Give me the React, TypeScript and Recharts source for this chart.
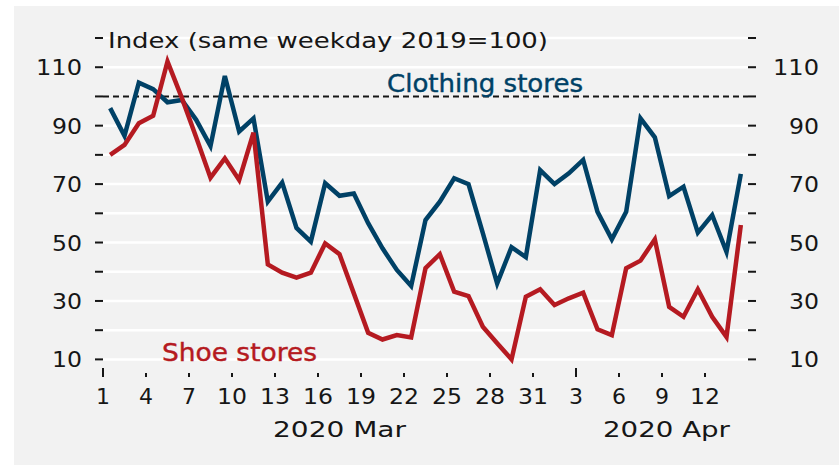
import { LineChart, Line, XAxis, YAxis, CartesianGrid, ReferenceLine } from 'recharts'

// daily index, 1 Mar - 14 Apr 2020
const dayLabels = [
  '1', '2', '3', '4', '5', '6', '7', '8', '9', '10', '11', '12', '13', '14', '15', '16',
  '17', '18', '19', '20', '21', '22', '23', '24', '25', '26', '27', '28', '29', '30', '31',
  '1', '2', '3', '4', '5', '6', '7', '8', '9', '10', '11', '12', '13', '14',
]
const clothing = [
  96, 86.5, 104.7, 102.5, 98, 98.8, 92, 83, 107, 88, 92.5, 64, 70.5, 55, 50.3, 70.3,
  66, 66.8, 56.6, 48, 40.6, 35.1, 57.7, 64, 72, 70, 53.2, 36, 48.4, 45, 74.8,
  70, 73.7, 78.3, 60.5, 51.1, 60.5, 92.5, 86, 65.9, 69.1, 53.4, 59.4, 46.8, 73.5,
]
const shoes = [
  80, 83.4, 90.8, 93.4, 112, 99.5, 86, 72.2, 78.8, 71.4, 87.6, 42.5, 39.7, 38, 39.7, 49.7,
  46, 32.6, 19.1, 16.8, 18.3, 17.5, 41.2, 46, 33.2, 31.7, 21.2, 15.5, 10, 31.4, 34,
  28.6, 30.9, 32.8, 20.3, 18.3, 41.2, 43.8, 51.1, 28, 24.6, 34, 24.6, 17.7, 56,
]
const xTicks = [0, 3, 6, 9, 12, 15, 18, 21, 24, 27, 30, 33, 36, 39, 42]
const majorTicks = [0, 33]
const yTicks = [10, 20, 30, 40, 50, 60, 70, 80, 90, 100, 110, 120]
const yLabelled = [10, 30, 50, 70, 90, 110]
const gridValues = [10, 20, 30, 40, 50, 60, 70, 80, 90, 110, 120]

const BLUE = '#004166'
const RED = '#b51a21'
const INK = '#161616'
const FONT = '"DejaVu Sans", sans-serif'

// each day's value sits in the middle of its day
const data = dayLabels.map((d, i) => ({ x: i + 0.5, day: d, clothing: clothing[i], shoes: shoes[i] }))

// tick text stretched a little to get the wide, squarish look of the original face
const wide = (s: string) => s.length * 16 - 2

const XTick = ({ x, y, payload }: any) => {
  const v = payload.value as number
  const major = majorTicks.includes(v)
  const label = dayLabels[v]
  return (
    <g>
      <line x1={x} x2={x} y1={y + (major ? -6 : -1)} y2={y + 3} stroke={INK} strokeWidth={2} />
      <text x={x - wide(label) / 2} y={y + 30} fontSize={22} fontFamily={FONT}
        textLength={wide(label)} lengthAdjust="spacingAndGlyphs" fill={INK}>
        {label}
      </text>
    </g>
  )
}

const LeftTick = ({ x, y, payload }: any) => {
  if (!yLabelled.includes(payload.value)) return null
  const s = String(payload.value)
  return (
    <text x={x - 13 - wide(s)} y={y + 8} fontSize={22} fontFamily={FONT}
      textLength={wide(s)} lengthAdjust="spacingAndGlyphs" fill={INK}>{s}</text>
  )
}

const RightTick = ({ x, y, payload }: any) => {
  if (!yLabelled.includes(payload.value)) return null
  const s = String(payload.value)
  return (
    <text x={x + 63 - wide(s)} y={y + 8} fontSize={22} fontFamily={FONT}
      textLength={wide(s)} lengthAdjust="spacingAndGlyphs" fill={INK}>{s}</text>
  )
}

export default function App() {
  return (
    <div style={{ position: 'absolute', left: 0, top: 0, width: 839, height: 465, background: '#fff' }}>
      <div style={{ position: 'absolute', left: 14, top: 6, right: 0, bottom: 0, background: '#f2f2f2' }} />
      <LineChart width={839} height={465} data={data}
        margin={{ top: 38, right: 0, bottom: 0, left: 0 }}
        style={{ position: 'absolute', left: 0, top: 0 }}>
        <CartesianGrid yAxisId="left" vertical={false} horizontalValues={gridValues}
          stroke="#ffffff" strokeWidth={2.5} />
        <XAxis dataKey="x" type="number" domain={[0, 45]} ticks={xTicks} interval={0}
          allowDataOverflow height={91} axisLine={false} tickLine={false}
          tickSize={0} tickMargin={0} tick={<XTick />} />
        <YAxis yAxisId="left" orientation="left" type="number" domain={[5, 120]}
          allowDataOverflow ticks={yTicks} interval={0} width={103} axisLine={false}
          tickSize={8} tickMargin={0} tickLine={{ stroke: INK, strokeWidth: 2 }} tick={<LeftTick />} />
        <YAxis yAxisId="right" orientation="right" type="number" domain={[5, 120]}
          allowDataOverflow ticks={yTicks} interval={0} width={91} axisLine={false}
          tickSize={8} tickMargin={0} tickLine={{ stroke: INK, strokeWidth: 2 }} tick={<RightTick />} />
        <ReferenceLine yAxisId="left" y={100} stroke={INK} strokeWidth={2} strokeDasharray="6 4" />
        <Line yAxisId="left" type="linear" dataKey="clothing" stroke={BLUE} strokeWidth={4.5}
          dot={false} activeDot={false} isAnimationActive={false} />
        <Line yAxisId="left" type="linear" dataKey="shoes" stroke={RED} strokeWidth={4.5}
          dot={false} activeDot={false} isAnimationActive={false} />
      </LineChart>
      <svg width={839} height={465} style={{ position: 'absolute', left: 0, top: 0, pointerEvents: 'none' }}
        fontFamily={FONT}>
        <text x={108} y={48} fontSize={22} fill={INK} textLength={440} lengthAdjust="spacingAndGlyphs">
          Index (same weekday 2019=100)
        </text>
        <text x={387} y={92} fontSize={24} fill={BLUE} textLength={196} lengthAdjust="spacingAndGlyphs"
          stroke={BLUE} strokeWidth={0.4}>
          Clothing stores
        </text>
        <text x={162} y={361} fontSize={24} fill={RED} textLength={155} lengthAdjust="spacingAndGlyphs"
          stroke={RED} strokeWidth={0.4}>
          Shoe stores
        </text>
        <text x={273} y={437} fontSize={22} fill={INK} textLength={133} lengthAdjust="spacingAndGlyphs">
          2020 Mar
        </text>
        <text x={603} y={437} fontSize={22} fill={INK} textLength={127} lengthAdjust="spacingAndGlyphs">
          2020 Apr
        </text>
      </svg>
    </div>
  )
}
